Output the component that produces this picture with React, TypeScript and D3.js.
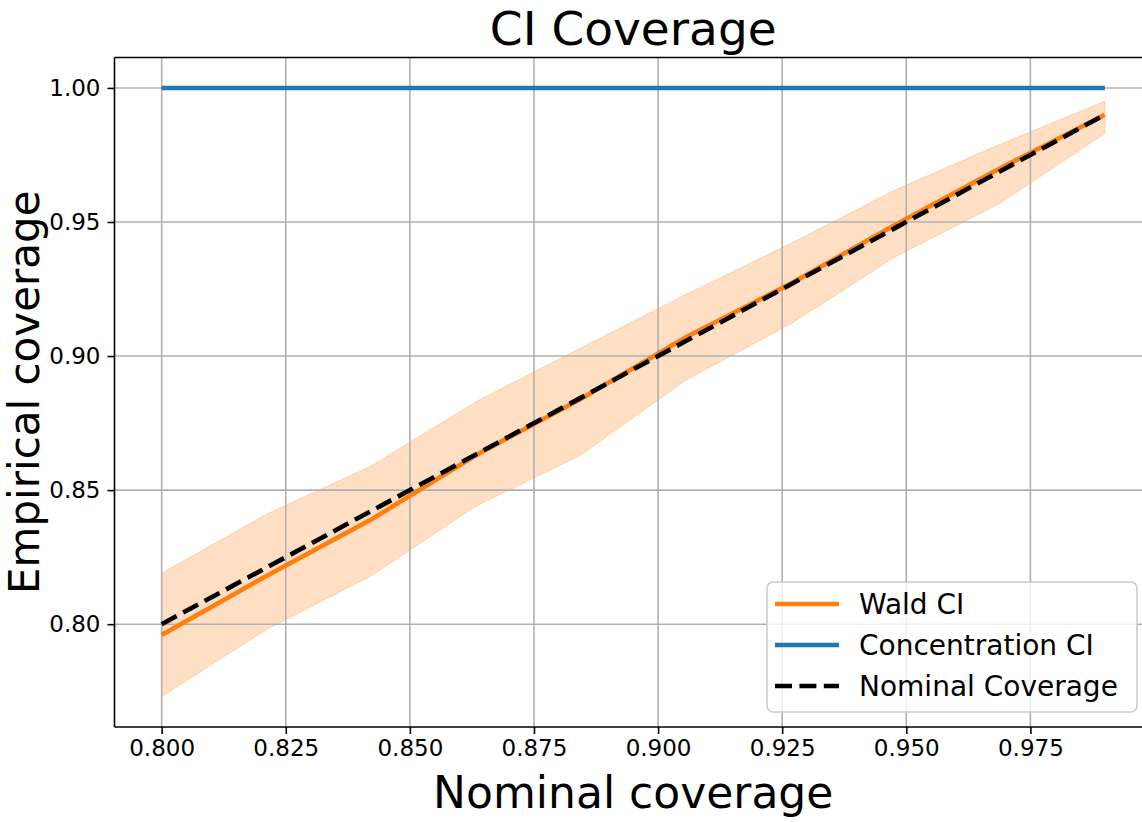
import { useRef, useEffect } from "react";
import * as d3 from "d3";

// ── Data ──────────────────────────────────────────────────────────────────
const nominal = [0.8, 0.8211, 0.8422, 0.8633, 0.8844, 0.9056, 0.9267, 0.9478, 0.9689, 0.99];
const waldCoverage = [0.796, 0.818, 0.839, 0.863, 0.884, 0.907, 0.927, 0.949, 0.97, 0.99];
const waldUpper = [0.819, 0.841, 0.859, 0.883, 0.903, 0.923, 0.942, 0.962, 0.979, 0.995];
const waldLower = [0.773, 0.798, 0.818, 0.844, 0.863, 0.891, 0.912, 0.937, 0.957, 0.983];
const concentrationCoverage = [1, 1, 1, 1, 1, 1, 1, 1, 1, 1];
const xTicks = [0.8, 0.825, 0.85, 0.875, 0.9, 0.925, 0.95, 0.975];
const yTicks = [0.8, 0.85, 0.9, 0.95, 1.0];
const legendItems = [
  { label: "Wald CI", color: "#ff7f0e", dash: "" },
  { label: "Concentration CI", color: "#1f77b4", dash: "" },
  { label: "Nominal Coverage", color: "#000000", dash: "17,7.4" },
];

const W = 1142;
const H = 822;
const FONT = "'DejaVu Sans', sans-serif";
const AX = { left: 114.5, right: 1152, top: 57.5, bottom: 727 };

export default function App() {
  const svgRef = useRef<SVGSVGElement>(null);

  useEffect(() => {
    if (!svgRef.current) return;
    const svg = d3.select(svgRef.current);
    svg.selectAll("*").remove();

    // matplotlib-like 5% margins
    const xr = d3.extent(nominal) as [number, number];
    const xPad = (xr[1] - xr[0]) * 0.05;
    const yMin = d3.min(waldLower)!;
    const yMax = d3.max(concentrationCoverage)!;
    const yPad = (yMax - yMin) * 0.05;

    const x = d3.scaleLinear().domain([xr[0] - xPad, xr[1] + xPad]).range([AX.left, AX.right]);
    const y = d3.scaleLinear().domain([yMin - yPad, yMax + yPad]).range([AX.bottom, AX.top]);

    const rows = nominal.map((n, i) => ({
      n,
      wald: waldCoverage[i],
      lo: waldLower[i],
      hi: waldUpper[i],
      conc: concentrationCoverage[i],
    }));
    type Row = (typeof rows)[number];

    const clip = svg.append("defs").append("clipPath").attr("id", "plot-clip");
    clip
      .append("rect")
      .attr("x", AX.left)
      .attr("y", AX.top)
      .attr("width", AX.right - AX.left)
      .attr("height", AX.bottom - AX.top);

    const plot = svg.append("g").attr("clip-path", "url(#plot-clip)");

    // Confidence band
    const band = d3
      .area<Row>()
      .x((d) => x(d.n))
      .y0((d) => y(d.lo))
      .y1((d) => y(d.hi));
    plot
      .append("path")
      .datum(rows)
      .attr("d", band)
      .attr("fill", "#ff7f0e")
      .attr("fill-opacity", 0.25)
      .attr("stroke", "#ff7f0e")
      .attr("stroke-opacity", 0.25)
      .attr("stroke-width", 1);

    // Gridlines
    const grid = plot.append("g");
    grid
      .selectAll("line.gx")
      .data(xTicks)
      .join("line")
      .attr("x1", (d) => x(d))
      .attr("x2", (d) => x(d))
      .attr("y1", AX.top)
      .attr("y2", AX.bottom)
      .attr("stroke", "#b0b0b0")
      .attr("stroke-width", 1.6);
    grid
      .selectAll("line.gy")
      .data(yTicks)
      .join("line")
      .attr("class", "gy")
      .attr("x1", AX.left)
      .attr("x2", AX.right)
      .attr("y1", (d) => y(d))
      .attr("y2", (d) => y(d))
      .attr("stroke", "#b0b0b0")
      .attr("stroke-width", 1.6);

    // Lines
    const line = (acc: (d: Row) => number) =>
      d3
        .line<Row>()
        .x((d) => x(d.n))
        .y((d) => y(acc(d)));

    plot
      .append("path")
      .datum(rows)
      .attr("d", line((d) => d.wald))
      .attr("fill", "none")
      .attr("stroke", "#ff7f0e")
      .attr("stroke-width", 4.6);
    plot
      .append("path")
      .datum(rows)
      .attr("d", line((d) => d.conc))
      .attr("fill", "none")
      .attr("stroke", "#1f77b4")
      .attr("stroke-width", 4.6);
    plot
      .append("path")
      .datum(rows)
      .attr("d", line((d) => d.n))
      .attr("fill", "none")
      .attr("stroke", "#000")
      .attr("stroke-width", 4.6)
      .attr("stroke-dasharray", "17,7.4");

    // Spines
    const spine = svg.append("g").attr("stroke", "#000").attr("stroke-width", 1.6);
    spine.append("line").attr("x1", AX.left).attr("x2", AX.left).attr("y1", AX.top).attr("y2", AX.bottom);
    spine.append("line").attr("x1", AX.left).attr("x2", AX.right).attr("y1", AX.bottom).attr("y2", AX.bottom);
    spine.append("line").attr("x1", AX.left).attr("x2", AX.right).attr("y1", AX.top).attr("y2", AX.top);
    spine.append("line").attr("x1", AX.right).attr("x2", AX.right).attr("y1", AX.top).attr("y2", AX.bottom);

    // X axis
    const xAxisG = svg
      .append("g")
      .attr("transform", `translate(0,${AX.bottom})`)
      .call(d3.axisBottom(x).tickValues(xTicks).tickFormat(d3.format(".3f")).tickSize(7).tickPadding(6));
    xAxisG.select(".domain").remove();
    xAxisG.selectAll("line").attr("stroke", "#000").attr("stroke-width", 1.6);
    xAxisG
      .selectAll("text")
      .attr("fill", "#000")
      .attr("font-size", "23px")
      .attr("font-family", FONT);

    // Y axis
    const yAxisG = svg
      .append("g")
      .attr("transform", `translate(${AX.left},0)`)
      .call(d3.axisLeft(y).tickValues(yTicks).tickFormat(d3.format(".2f")).tickSize(7).tickPadding(7));
    yAxisG.select(".domain").remove();
    yAxisG.selectAll("line").attr("stroke", "#000").attr("stroke-width", 1.6);
    yAxisG
      .selectAll("text")
      .attr("fill", "#000")
      .attr("font-size", "23px")
      .attr("font-family", FONT);

    // Title and axis labels
    const midX = (AX.left + AX.right) / 2;
    svg
      .append("text")
      .attr("x", midX)
      .attr("y", 45)
      .attr("text-anchor", "middle")
      .attr("font-size", "47px")
      .attr("font-family", FONT)
      .text("CI Coverage");
    svg
      .append("text")
      .attr("x", midX)
      .attr("y", 808)
      .attr("text-anchor", "middle")
      .attr("font-size", "44px")
      .attr("font-family", FONT)
      .text("Nominal coverage");
    svg
      .append("text")
      .attr("transform", `translate(39,${(AX.top + AX.bottom) / 2}) rotate(-90)`)
      .attr("text-anchor", "middle")
      .attr("font-size", "42px")
      .attr("font-family", FONT)
      .text("Empirical coverage");

    // Legend
    const lg = svg.append("g").attr("transform", "translate(767,582)");
    lg.append("rect")
      .attr("width", 370)
      .attr("height", 130)
      .attr("rx", 6)
      .attr("fill", "#fff")
      .attr("fill-opacity", 0.8)
      .attr("stroke", "#cccccc")
      .attr("stroke-width", 1.6);
    const entry = lg
      .selectAll("g.entry")
      .data(legendItems)
      .join("g")
      .attr("transform", (_, i) => `translate(0,${22 + i * 41})`);
    entry
      .append("line")
      .attr("x1", 8)
      .attr("x2", 72)
      .attr("stroke", (d) => d.color)
      .attr("stroke-width", 4.6)
      .attr("stroke-dasharray", (d) => d.dash || null);
    entry
      .append("text")
      .attr("x", 92)
      .attr("y", 10)
      .attr("font-size", "28px")
      .attr("font-family", FONT)
      .text((d) => d.label);
  }, []);

  return (
    <svg
      ref={svgRef}
      width={W}
      height={H}
      style={{ position: "absolute", left: 0, top: 0, background: "#fff" }}
    />
  );
}
